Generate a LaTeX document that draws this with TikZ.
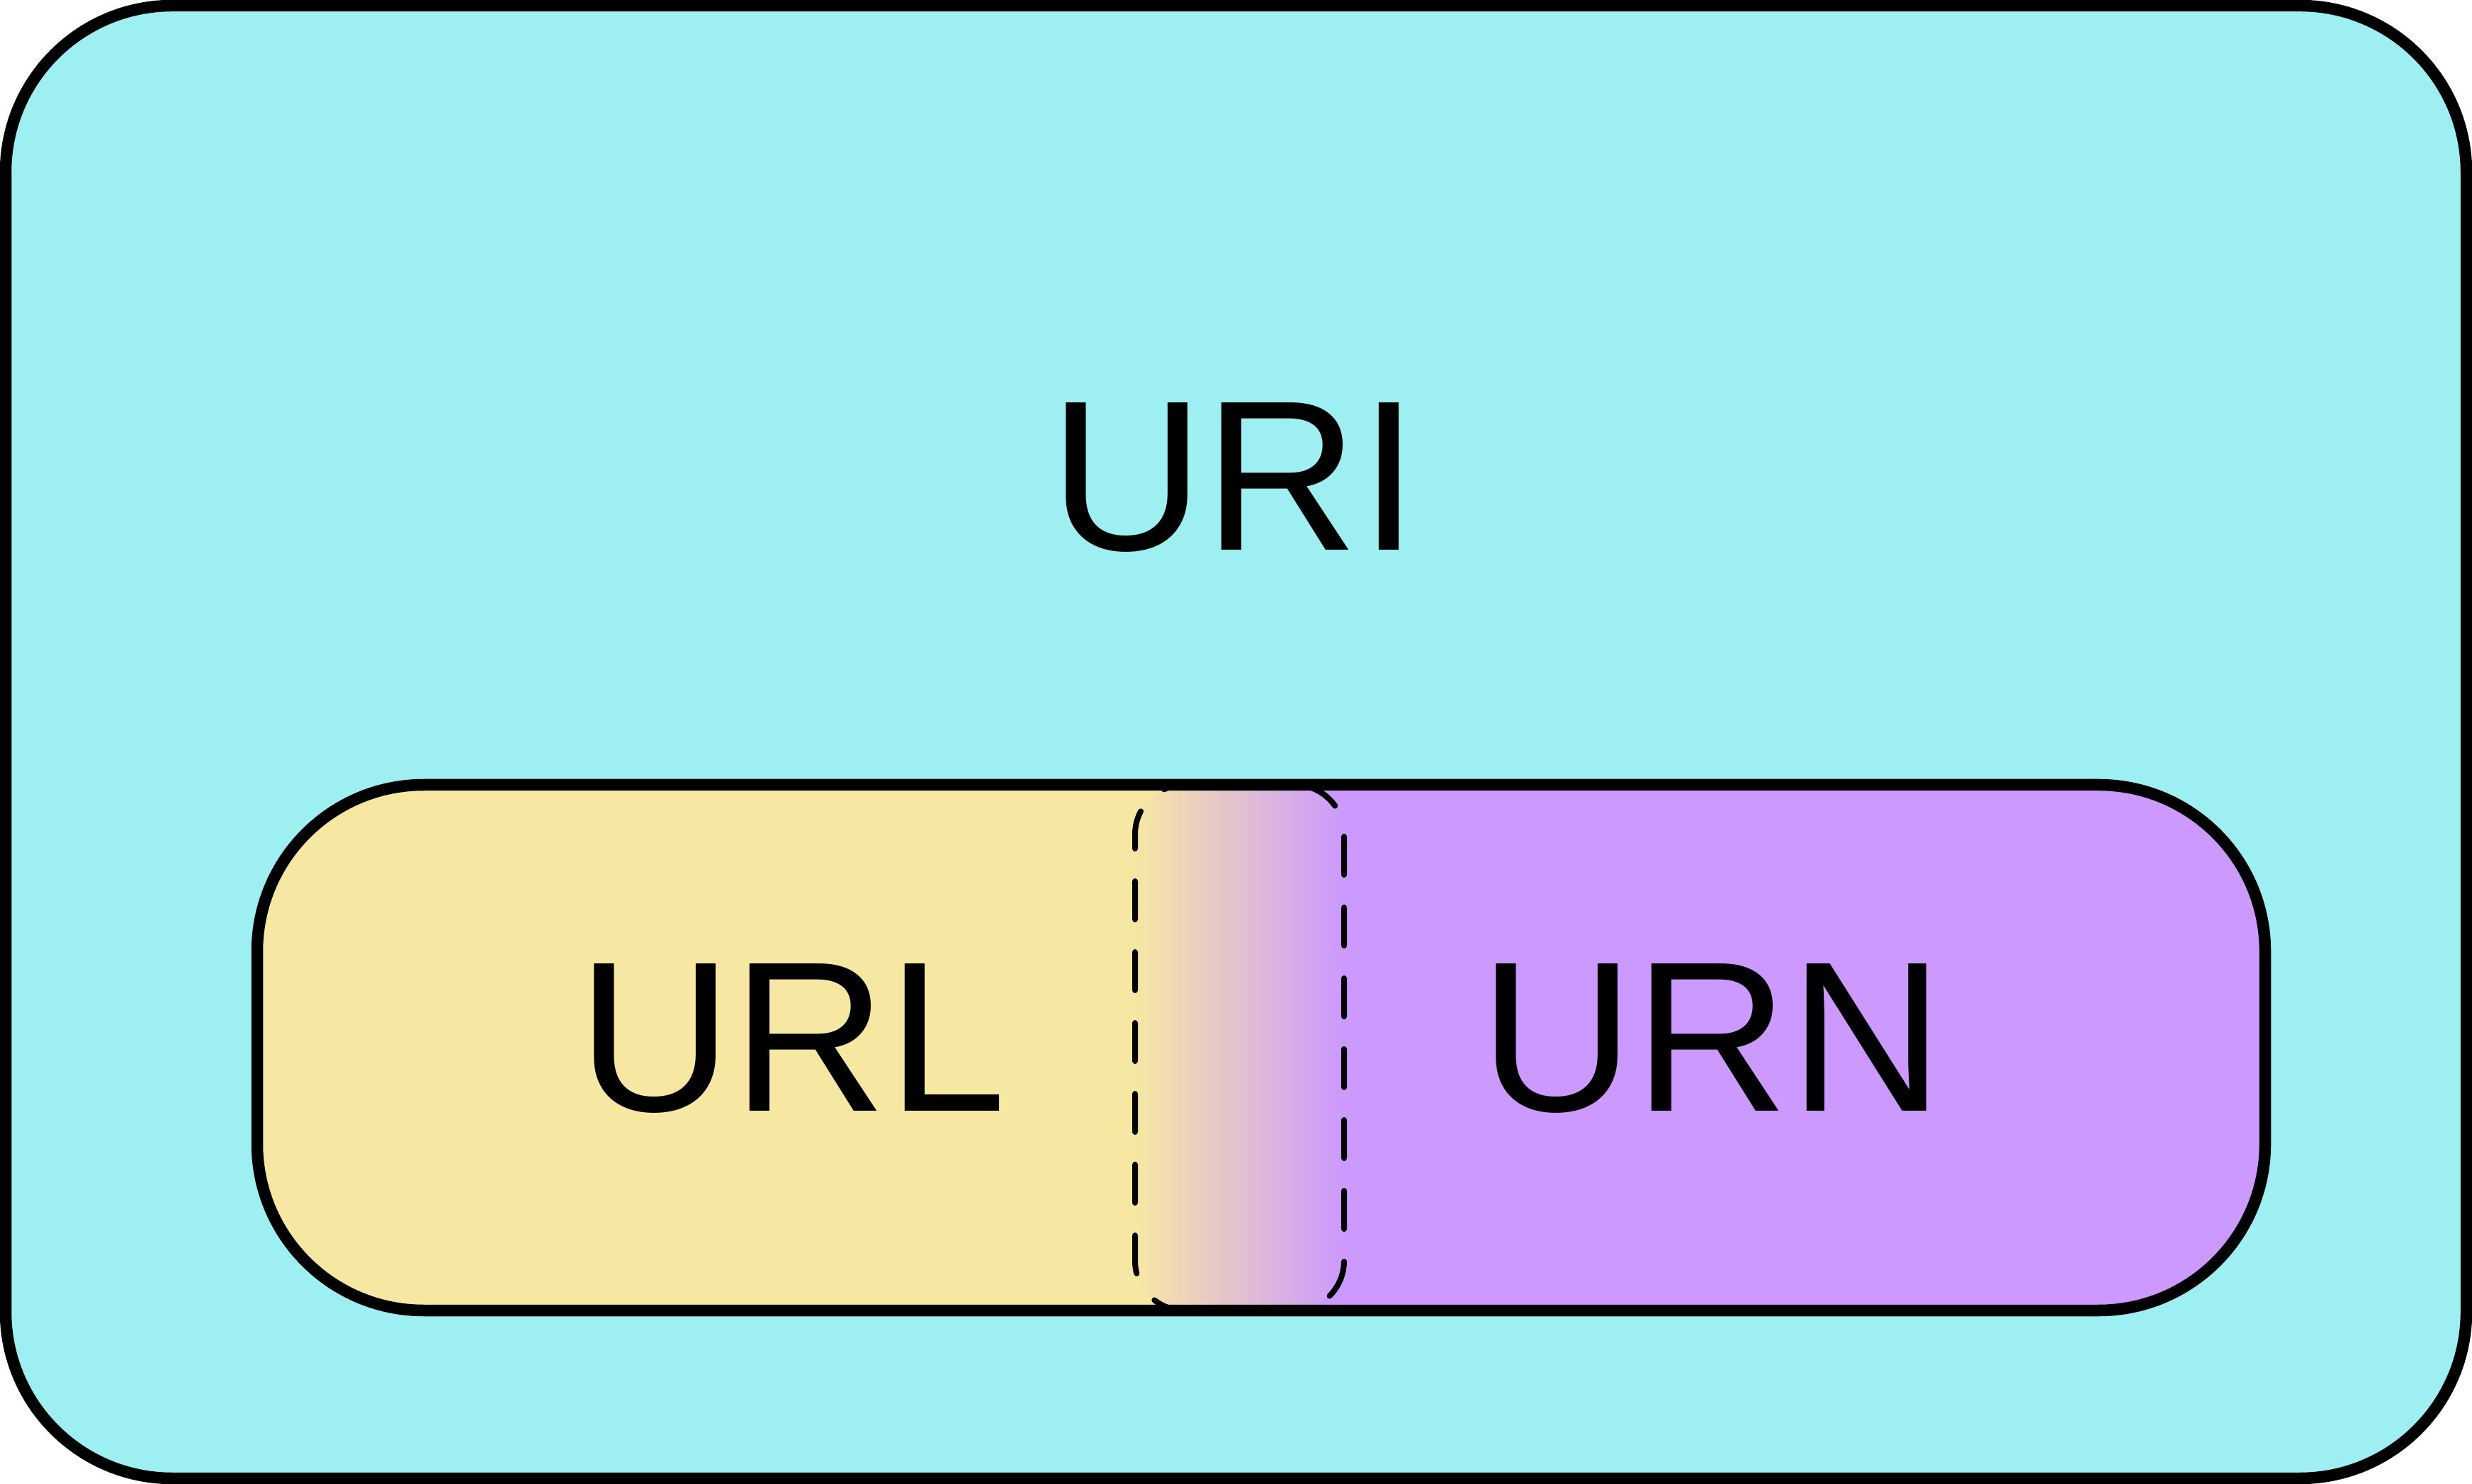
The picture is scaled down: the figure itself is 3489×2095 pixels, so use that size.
\documentclass[tikz,border=0pt]{standalone}
\usepackage{fontspec}
\setmainfont{Liberation Sans}
\definecolor{uricyan}{RGB}{158,239,241}
\definecolor{urlyellow}{RGB}{246,231,163}
\definecolor{urnpurple}{RGB}{204,153,255}

\begin{document}
\begin{tikzpicture}[%
	x=0.1mm,y=-0.1mm,
	setframe/.style={draw=black,line width=1.65mm,rounded corners=23.5mm},
	overlap/.style={draw=black,line width=0.8mm,line cap=round,
		dash pattern=on 5.4mm off 4.6mm,rounded corners=7mm},
	acronym/.style={inner sep=0pt,anchor=base,font=\fontsize{86pt}{100pt}\selectfont}]

	\useasboundingbox (0,0) rectangle (3489,2095);

	% URI
	\path[setframe,fill=uricyan] (8,8) rectangle (3481,2087);

	% URL / URN
	\begin{scope}
		\clip[rounded corners=24mm] (363,1108) rectangle (3197,1850);
		\fill[urlyellow] (363,1108) rectangle (1750,1850);
		\fill[urnpurple] (1750,1108) rectangle (3197,1850);
		\shade[left color=urlyellow,right color=urnpurple,rounded corners=7mm]
			(1602,1108) rectangle (1897,1850);
	\end{scope}

	\draw[overlap,dash phase=0.6mm] (1690,1108) -- (1602,1108) -- (1602,1850) -- (1690,1850);
	\draw[overlap,dash phase=7mm] (1810,1108) -- (1897,1108) -- (1897,1850) -- (1810,1850);
	\path[setframe] (363,1108) rectangle (3197,1850);

	\node[acronym] (URI) at (1742,777)  {URI};
	\node[acronym] (URL) at (1118,1569) {URL};
	\node[acronym] (URN) at (2416,1569) {URN};

\end{tikzpicture}
\end{document}
